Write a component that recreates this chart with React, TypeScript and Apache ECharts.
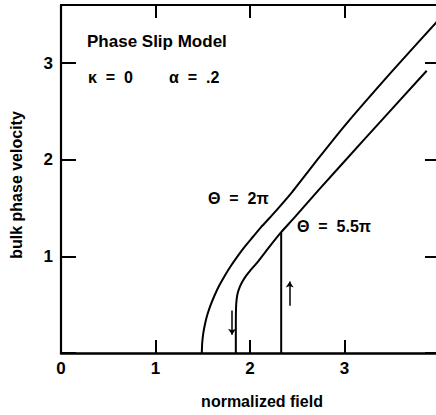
import React, { useEffect, useRef } from "react";
import * as echarts from "echarts";

// Θ = 2π curve
const curve1X = [1.49, 1.494, 1.505, 1.524, 1.55, 1.585, 1.627, 1.676, 1.733, 1.797, 1.868, 1.945, 2.03, 2.115, 2.22, 2.45, 2.73, 3.01, 3.5, 3.98];
const curve1Y = [0, 0.1, 0.2, 0.3, 0.4, 0.5, 0.6, 0.7, 0.8, 0.9, 1.0, 1.1, 1.2, 1.3, 1.41, 1.67, 2.02, 2.36, 2.91, 3.43];
// Θ = 5.5π curve
const curve2X = [1.85, 1.85, 1.852, 1.858, 1.87, 1.89, 1.92, 1.96, 2.0, 2.08, 2.19, 2.33, 2.46, 2.73, 3.2, 3.87];
const curve2Y = [0, 0.3, 0.46, 0.55, 0.62, 0.68, 0.74, 0.8, 0.85, 0.94, 1.08, 1.25, 1.39, 1.69, 2.2, 2.92];
// vertical jump line
const jumpX = [2.33, 2.33];
const jumpY = [0, 1.25];
// arrows: [x, yFrom, yTo]
const arrowDown = [1.81, 0.44, 0.19];
const arrowUp = [2.42, 0.49, 0.74];

const xMin = 0, xMax = 4, yMin = 0, yMax = 3.6;
const xTickLabels = ["0", "1", "2", "3"];
const yTickLabels = ["1", "2", "3"];

const FONT = '"Liberation Sans", Arial, Helvetica, sans-serif';

const zip = (xs: number[], ys: number[]) => xs.map((x, i) => [x, ys[i]]);

export default function App() {
  const ref = useRef<HTMLDivElement>(null);
  useEffect(() => {
    document.body.style.margin = "0";
    document.body.style.overflow = "hidden";
    document.documentElement.style.overflow = "hidden";
    const chart = echarts.init(ref.current!, null, { renderer: "svg" });
    const axisLine = (w: number) => ({ show: true, lineStyle: { color: "#000", width: w } });
    const option: any = {
      animation: false,
      backgroundColor: "#fff",
      grid: { left: 61, top: 5, bottom: 62, right: 1 },
      xAxis: [
        {
          type: "value",
          min: xMin,
          max: xMax,
          interval: 1,
          position: "bottom",
          axisLine: { ...axisLine(2.5), onZero: false },
          axisTick: { show: true, inside: true, length: 13, lineStyle: { color: "#000", width: 2 } },
          axisLabel: {
            color: "#000",
            fontFamily: FONT,
            fontWeight: "bold",
            fontSize: 17,
            margin: 7,
            formatter: (v: number) => (xTickLabels.includes(String(v)) ? String(v) : ""),
          },
          splitLine: { show: false },
          name: "normalized field",
          nameLocation: "middle",
          nameGap: 40,
          nameTextStyle: {
            color: "#000",
            fontFamily: FONT,
            fontWeight: "bold",
            fontSize: 16,
            padding: [0, 0, 0, 24],
          },
        },
        {
          type: "value",
          min: xMin,
          max: xMax,
          interval: 1,
          position: "top",
          axisLine: { ...axisLine(2), onZero: false },
          axisTick: { show: true, inside: true, length: 13, lineStyle: { color: "#000", width: 2 } },
          axisLabel: { show: false },
          splitLine: { show: false },
        },
      ],
      yAxis: [
        {
          type: "value",
          min: yMin,
          max: yMax,
          interval: 1,
          position: "left",
          axisLine: { ...axisLine(2.2), onZero: false },
          axisTick: { show: true, inside: true, length: 15, lineStyle: { color: "#000", width: 2 } },
          axisLabel: {
            color: "#000",
            fontFamily: FONT,
            fontWeight: "bold",
            fontSize: 17,
            margin: 8,
            showMaxLabel: false,
            formatter: (v: number) => (yTickLabels.includes(String(v)) ? String(v) : ""),
          },
          splitLine: { show: false },
          name: "bulk phase velocity",
          nameLocation: "middle",
          nameGap: 37,
          nameRotate: 90,
          nameTextStyle: {
            color: "#000",
            fontFamily: FONT,
            fontWeight: "bold",
            fontSize: 16,
            padding: [0, 12, 0, 0],
          },
        },
        {
          type: "value",
          min: yMin,
          max: yMax,
          interval: 1,
          position: "right",
          axisLine: { ...axisLine(2), onZero: false },
          axisTick: { show: true, inside: true, length: 14, lineStyle: { color: "#000", width: 2 } },
          axisLabel: { show: false },
          splitLine: { show: false },
        },
      ],
      series: [
        {
          type: "line",
          data: zip(curve1X, curve1Y),
          smooth: 0.2,
          showSymbol: false,
          symbol: "none",
          lineStyle: { color: "#000", width: 2 },
        },
        {
          type: "line",
          data: zip(curve2X, curve2Y),
          smooth: 0.2,
          showSymbol: false,
          symbol: "none",
          lineStyle: { color: "#000", width: 2 },
        },
        {
          type: "line",
          data: zip(jumpX, jumpY),
          showSymbol: false,
          symbol: "none",
          lineStyle: { color: "#000", width: 2 },
        },
        {
          type: "lines",
          coordinateSystem: "cartesian2d",
          symbol: ["none", "arrow"],
          symbolSize: 6,
          lineStyle: { color: "#000", width: 1.5, opacity: 1 },
          data: [
            { coords: [[arrowDown[0], arrowDown[1]], [arrowDown[0], arrowDown[2]]] },
            { coords: [[arrowUp[0], arrowUp[1]], [arrowUp[0], arrowUp[2]]] },
          ],
        },
      ],
      graphic: [
        {
          type: "text",
          left: 87,
          top: 33,
          style: { text: "Phase Slip Model", fill: "#000", font: `bold 17px ${FONT}` },
        },
        {
          type: "text",
          left: 88,
          top: 69,
          style: { text: "κ  =  0", fill: "#000", font: `bold 16px ${FONT}` },
        },
        {
          type: "text",
          left: 169,
          top: 69,
          style: { text: "α  =  .2", fill: "#000", font: `bold 16px ${FONT}` },
        },
        {
          type: "text",
          left: 208,
          top: 190,
          style: { text: "Θ  =  2π", fill: "#000", font: `bold 16px ${FONT}` },
        },
        {
          type: "text",
          left: 297,
          top: 218,
          style: { text: "Θ  =  5.5π", fill: "#000", font: `bold 16px ${FONT}` },
        },
      ],
    };
    chart.setOption(option);
    return () => chart.dispose();
  }, []);
  return <div ref={ref} style={{ width: 442, height: 415 }} />;
}
